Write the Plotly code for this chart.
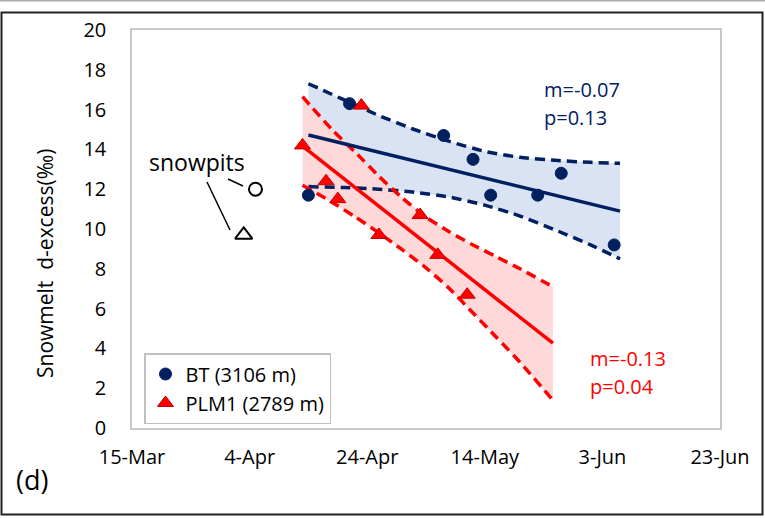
import plotly.graph_objects as go

# ---------------- data ----------------
x_tickvals = ["2019-03-15", "2019-04-04", "2019-04-24", "2019-05-14", "2019-06-03", "2019-06-23"]
x_ticktext = ["15-Mar", "4-Apr", "24-Apr", "14-May", "3-Jun", "23-Jun"]
y_tickvals = [0, 2, 4, 6, 8, 10, 12, 14, 16, 18, 20]

bt_dates = ["2019-04-14", "2019-04-21", "2019-05-07", "2019-05-12", "2019-05-15",
            "2019-05-23", "2019-05-27", "2019-06-05"]
bt_vals = [11.7, 16.3, 14.7, 13.5, 11.7, 11.7, 12.8, 9.2]

plm_dates = ["2019-04-13", "2019-04-17", "2019-04-19", "2019-04-23", "2019-04-26",
             "2019-05-03", "2019-05-06", "2019-05-11"]
plm_vals = [14.2, 12.4, 11.5, 16.2, 9.7, 10.7, 8.7, 6.7]

snowpit_circle_dates = ["2019-04-05"]
snowpit_circle_vals = [12.0]
snowpit_tri_dates = ["2019-04-03"]
snowpit_tri_vals = [9.7]

bt_fit_dates = ["2019-04-14", "2019-06-06"]
bt_fit_vals = [14.72, 10.9]
bt_ci_dates = ["2019-04-14", "2019-04-20", "2019-04-26", "2019-05-02", "2019-05-08",
               "2019-05-14", "2019-05-20", "2019-05-26", "2019-06-01", "2019-06-06"]
bt_upper = [17.3, 16.5, 15.7, 15.0, 14.4, 13.9, 13.6, 13.45, 13.35, 13.3]
bt_lower = [12.13, 12.08, 12.0, 11.85, 11.6, 11.2, 10.65, 9.95, 9.2, 8.5]

plm_fit_dates = ["2019-04-13", "2019-05-25 14:00"]
plm_fit_vals = [14.17, 4.26]
plm_ci_dates = ["2019-04-13", "2019-04-18", "2019-04-22", "2019-04-26", "2019-04-30",
                "2019-05-04", "2019-05-08", "2019-05-12", "2019-05-16", "2019-05-20",
                "2019-05-25 14:00"]
plm_upper = [16.65, 15.0, 13.85, 12.65, 11.55, 10.6, 9.85, 9.2, 8.6, 8.0, 7.1]
plm_lower = [12.2, 11.35, 10.6, 9.8, 8.95, 8.05, 7.0, 5.78, 4.55, 3.3, 1.4]

# ---------------- styles ----------------
NAVY = "#002060"
RED = "#FF0000"
FONT = "Open Sans"
W, H = 765, 518
L, R, T, B = 132, 45, 30, 90
PW, PH = W - L - R, H - T - B


def px(x):
    return (x - L) / PW


def py(y):
    return (H - B - y) / PH


fig = go.Figure()

# confidence bands
fig.add_trace(go.Scatter(x=bt_ci_dates + bt_ci_dates[::-1], y=bt_upper + bt_lower[::-1],
                         fill="toself", fillcolor="#DAE3F3", line=dict(width=0),
                         mode="lines", showlegend=False, hoverinfo="skip"))
fig.add_trace(go.Scatter(x=plm_ci_dates + plm_ci_dates[::-1], y=plm_upper + plm_lower[::-1],
                         fill="toself", fillcolor="#FFD9D9", line=dict(width=0),
                         mode="lines", showlegend=False, hoverinfo="skip"))

dash = "10px,6px"
for xs, ys, col in [(bt_ci_dates, bt_upper, NAVY), (bt_ci_dates, bt_lower, NAVY),
                    (plm_ci_dates, plm_upper, RED), (plm_ci_dates, plm_lower, RED)]:
    fig.add_trace(go.Scatter(x=xs, y=ys, mode="lines",
                             line=dict(color=col, width=3.5, dash=dash, shape="spline", smoothing=0.6),
                             showlegend=False, hoverinfo="skip"))

fig.add_trace(go.Scatter(x=bt_fit_dates, y=bt_fit_vals, mode="lines",
                         line=dict(color=NAVY, width=3.5), showlegend=False))
fig.add_trace(go.Scatter(x=plm_fit_dates, y=plm_fit_vals, mode="lines",
                         line=dict(color=RED, width=3.5), showlegend=False))

fig.add_trace(go.Scatter(x=bt_dates, y=bt_vals, mode="markers", name="BT (3106 m)",
                         marker=dict(symbol="circle", size=12, color=NAVY,
                                     line=dict(color=NAVY, width=1))))
fig.add_trace(go.Scatter(x=plm_dates, y=plm_vals, mode="markers", name="PLM1 (2789 m)",
                         marker=dict(symbol="triangle-up", size=14, color=RED,
                                     line=dict(color="#C00000", width=1))))

fig.add_trace(go.Scatter(x=snowpit_circle_dates, y=snowpit_circle_vals, mode="markers",
                         marker=dict(symbol="circle-open", size=13, color="black",
                                     line=dict(width=2)), showlegend=False))
fig.add_trace(go.Scatter(x=snowpit_tri_dates, y=snowpit_tri_vals, mode="markers",
                         marker=dict(symbol="triangle-up-open", size=15, color="black",
                                     line=dict(width=2)), showlegend=False))

annotations = [
    dict(x=px(197), y=py(162), text="snowpits", xanchor="center", font=dict(size=23, color="black")),
    dict(x=px(542), y=py(89), text="m=-0.07", xanchor="left", font=dict(size=20, color=NAVY)),
    dict(x=px(542), y=py(117), text="p=0.13", xanchor="left", font=dict(size=20, color=NAVY)),
    dict(x=px(588), y=py(358), text="m=-0.13", xanchor="left", font=dict(size=20, color=RED)),
    dict(x=px(588), y=py(386), text="p=0.04", xanchor="left", font=dict(size=20, color=RED)),
    dict(x=px(32), y=py(480), text="(d)", xanchor="center", font=dict(size=27, color="black")),
    dict(x=px(45), y=py(264), text="Snowmelt  d-excess(‰)", textangle=-90, xanchor="center",
         font=dict(size=21, color="black")),
]
for a in annotations:
    a.update(xref="paper", yref="paper", showarrow=False, yanchor="middle")

shapes = [
    dict(type="line", xref="paper", yref="paper", x0=px(228), y0=py(179), x1=px(243), y1=py(186),
         line=dict(color="black", width=1.5)),
    dict(type="line", xref="paper", yref="paper", x0=px(207), y0=py(182), x1=px(230), y1=py(230),
         line=dict(color="black", width=1.5)),
    dict(type="rect", xref="paper", yref="paper", x0=px(1.5), y0=py(514.5), x1=px(762.5), y1=py(12.5),
         line=dict(color="#222222", width=2), layer="below"),
    dict(type="line", xref="paper", yref="paper", x0=px(0), y0=py(0.75), x1=px(765), y1=py(0.75),
         line=dict(color="#AAAAAA", width=1.5)),
]

fig.update_layout(
    width=W, height=H,
    margin=dict(l=L, r=R, t=T, b=B),
    paper_bgcolor="white", plot_bgcolor="white",
    font=dict(family=FONT, size=20, color="black"),
    showlegend=True,
    legend=dict(x=px(144), y=py(353), xanchor="left", yanchor="top",
                bordercolor="#BFBFBF", borderwidth=1.5, bgcolor="white",
                font=dict(size=20, color="black"), itemwidth=30, tracegroupgap=0),
    annotations=annotations,
    shapes=shapes,
    xaxis=dict(type="date", range=["2019-03-15", "2019-06-23"], tickvals=x_tickvals,
               ticktext=x_ticktext, showgrid=False, zeroline=False, ticks="",
               showline=True, linecolor="#C8C8C8", linewidth=1.5, mirror=True,
               ticklabelstandoff=10, tickfont=dict(size=20)),
    yaxis=dict(range=[0, 20], tickvals=y_tickvals, showgrid=False, zeroline=False, ticks="",
               showline=True, linecolor="#C8C8C8", linewidth=1.5, mirror=True,
               ticklabelstandoff=20, tickfont=dict(size=20)),
)

fig.write_html("out.html", config={"displayModeBar": False},
               post_script="document.body.style.margin='0';document.body.style.overflow='hidden';")
